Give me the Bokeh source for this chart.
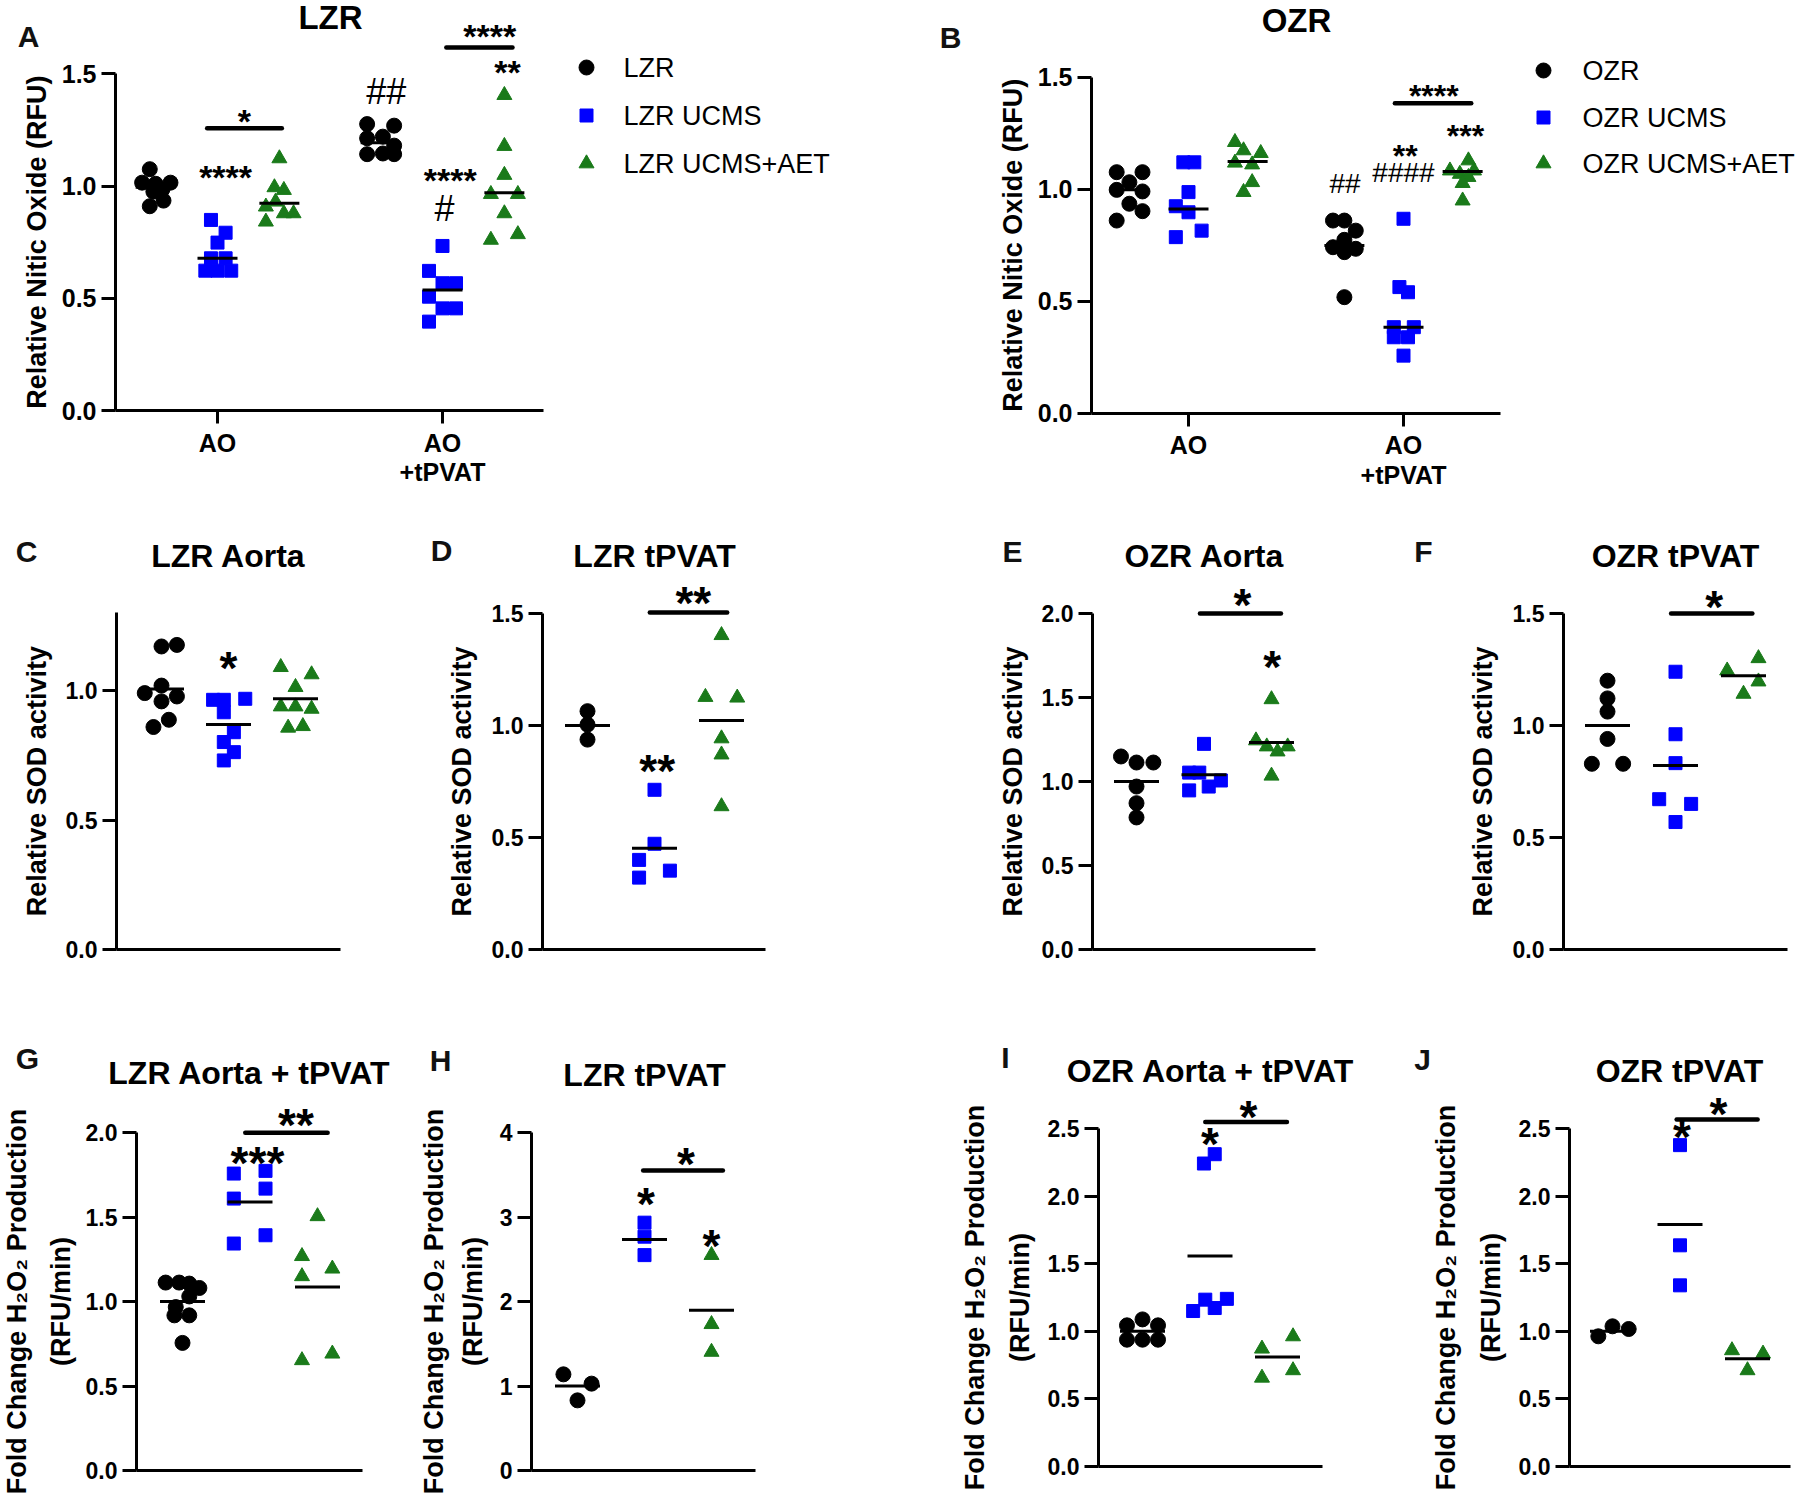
import math
from bokeh.plotting import figure
from bokeh.models import Range1d, FixedTicker, NumeralTickFormatter, LinearAxis
from bokeh.layouts import column, row
from bokeh.embed import file_html
from bokeh.resources import INLINE
from bokeh.core.properties import value

FONT = "Liberation Sans"
SERIES_COLORS = ["#000000", "#0000FF", "#1A7A1A"]
SERIES_MARKERS = ["circle", "square", "triangle"]
MARKER_SIZES = [15, 13, 15]

# ------------------------------------------------------------------ data
LZR_SERIES = ["LZR", "LZR UCMS", "LZR UCMS+AET"]
OZR_SERIES = ["OZR", "OZR UCMS", "OZR UCMS+AET"]
NO_CATEGORIES = ["AO", "AO\n+tPVAT"]
SERIES_OFFSET = [-0.275, 0.0, 0.275]

# Panel A : LZR nitric oxide   (series order: control, UCMS, UCMS+AET)
A_AO_VALUES = [[1.075, 1.015, 1.01, 1.015, 0.985, 0.975, 0.935, 0.91],
               [0.849, 0.792, 0.748, 0.678, 0.678, 0.623, 0.623, 0.623],
               [1.123, 0.994, 0.982, 0.93, 0.908, 0.878, 0.878, 0.841]]
A_AO_JITTER = [[-0.026, -0.06, 0.0, 0.066, 0.03, -0.01, 0.035, -0.026],
               [-0.029, 0.036, 0.0, -0.029, 0.036, -0.054, 0.0, 0.061],
               [0.0, -0.022, 0.02, -0.017, -0.06, 0.063, 0.02, -0.06]]
A_AO_CENTERS = [0.995, 0.678, 0.923]
A_TP_VALUES = [[1.276, 1.269, 1.213, 1.22, 1.18, 1.142, 1.145, 1.142],
               [0.733, 0.622, 0.567, 0.567, 0.507, 0.455, 0.455, 0.396],
               [1.405, 1.178, 1.049, 0.964, 0.964, 0.878, 0.785, 0.76]]
A_TP_JITTER = [[-0.06, 0.06, -0.06, 0.01, 0.06, -0.06, 0.01, 0.06],
               [0.0, -0.06, 0.0, 0.06, -0.06, 0.0, 0.06, -0.06],
               [0.0, 0.0, 0.0, -0.06, 0.06, 0.0, 0.06, -0.06]]
A_TP_CENTERS = [1.193, 0.537, 0.97]
A_MARKS = [("*", 1.119, 1.316), ("****", 1.036, 1.064), ("##", 1.75, 1.42),
           ("****", 2.21, 1.694), ("**", 2.289, 1.531), ("****", 2.034, 1.049),
           ("#", 2.009, 0.90)]
A_BARS = [(0.954, 1.286, 1.257), (2.017, 2.311, 1.617)]

# Panel B : OZR nitric oxide
B_AO_VALUES = [[1.076, 1.076, 1.031, 0.997, 0.99, 0.935, 0.902, 0.86],
               [1.12, 1.12, 0.987, 0.924, 0.897, 0.815, 0.786],
               [1.21, 1.173, 1.161, 1.118, 1.11, 1.031, 0.987]]
B_AO_JITTER = [[-0.059, 0.061, 0.0, -0.059, 0.061, 0.0, 0.061, -0.059],
               [-0.024, 0.027, 0.0, -0.059, 0.0, 0.061, -0.059],
               [-0.059, -0.019, 0.061, -0.059, 0.021, 0.021, -0.019]]
B_AO_CENTERS = [0.997, 0.912, 1.124]
B_TP_VALUES = [[0.86, 0.86, 0.815, 0.774, 0.741, 0.719, 0.734, 0.518],
               [0.868, 0.563, 0.54, 0.384, 0.384, 0.339, 0.339, 0.257],
               [1.128, 1.083, 1.083, 1.068, 1.054, 1.027, 0.949]]
B_TP_JITTER = [[-0.053, 0.0, 0.053, 0.0, -0.053, 0.0, 0.053, 0.0],
               [0.0, -0.019, 0.021, -0.045, 0.048, -0.045, 0.021, 0.0],
               [0.027, -0.059, 0.053, -0.013, 0.027, 0.0, 0.0]]
B_TP_CENTERS = [0.749, 0.384, 1.079]
B_MARKS = [("##", 1.728, 1.024), ("**", 2.008, 1.173), ("####", 2.0, 1.076),
           ("***", 2.288, 1.262), ("****", 2.141, 1.44)]
B_BARS = [(1.96, 2.315, 1.384)]

# Panels C-F : relative SOD activity
C_VALUES = [[1.17, 1.176, 1.019, 0.99, 0.977, 0.958, 0.887, 0.859],
            [0.964, 0.964, 0.968, 0.916, 0.839, 0.801, 0.762, 0.73],
            [1.09, 1.062, 1.013, 0.938, 0.938, 0.929, 0.856, 0.862]]
C_JITTER = [[0.0, 0.23, 0.0, -0.25, 0.23, 0.0, 0.11, -0.12],
            [-0.23, -0.07, 0.25, -0.07, 0.08, -0.07, 0.08, -0.07],
            [-0.22, 0.24, 0.0, -0.22, 0.0, 0.24, -0.11, 0.11]]
C_CENTERS = [1.006, 0.869, 0.968]
C_MARKS = [("*", 2.0, 1.116)]
C_BARS = []

D_VALUES = [[1.064, 1.004, 0.937],
            [0.713, 0.472, 0.40, 0.352, 0.321],
            [1.403, 1.127, 1.124, 0.942, 0.87, 0.639]]
D_JITTER = [[0.0, 0.0, 0.0],
            [0.0, 0.0, -0.23, 0.23, -0.23],
            [0.0, -0.24, 0.235, 0.0, 0.0, 0.0]]
D_CENTERS = [1.0, 0.452, 1.022]
D_MARKS = [("**", 2.04, 0.828), ("**", 2.58, 1.579)]
D_BARS = [(1.93, 3.085, 1.504)]

E_VALUES = [[1.149, 1.113, 1.113, 0.97, 0.871, 0.786],
            [1.224, 1.053, 1.053, 1.006, 0.97, 0.947],
            [1.489, 1.244, 1.208, 1.208, 1.178, 1.034]]
E_JITTER = [[-0.23, 0.0, 0.25, 0.0, 0.0, 0.0],
            [0.0, -0.22, -0.07, 0.25, 0.07, -0.22],
            [0.0, -0.23, -0.07, 0.24, 0.09, 0.0]]
E_CENTERS = [1.0, 1.04, 1.232]
E_MARKS = [("*", 3.01, 1.723), ("*", 2.57, 2.095)]
E_BARS = [(1.94, 3.14, 2.0)]

F_VALUES = [[1.2, 1.121, 1.062, 0.94, 0.829, 0.829],
            [1.24, 0.961, 0.832, 0.671, 0.65, 0.569],
            [1.30, 1.245, 1.196, 1.141]]
F_JITTER = [[0.0, 0.0, 0.0, 0.0, -0.23, 0.23],
            [0.0, 0.0, 0.0, -0.24, 0.23, 0.0],
            [0.22, -0.24, 0.22, 0.0]]
F_CENTERS = [1.0, 0.821, 1.222]
F_MARKS = [("*", 2.57, 1.564)]
F_BARS = [(1.935, 3.13, 1.5)]

# Panels G-J : fold change H2O2 production
G_VALUES = [[1.112, 1.112, 1.106, 1.08, 1.03, 0.967, 0.918, 0.918, 0.755],
            [1.757, 1.773, 1.609, 1.668, 1.392, 1.343],
            [1.504, 1.268, 1.194, 1.149, 0.691, 0.652]]
G_JITTER = [[-0.25, -0.05, 0.1, 0.25, 0.1, -0.1, 0.1, -0.12, 0.0],
            [-0.24, 0.23, -0.24, 0.23, 0.23, -0.24],
            [0.0, -0.23, 0.22, -0.23, 0.22, -0.23]]
G_CENTERS = [1.0, 1.589, 1.086]
G_MARKS = [("***", 2.11, 1.866), ("**", 2.68, 2.089)]
G_BARS = [(1.93, 3.15, 1.998)]

H_VALUES = [[1.138, 1.028, 0.83],
            [2.933, 2.767, 2.549],
            [2.549, 1.731, 1.403]]
H_JITTER = [[-0.21, 0.21, 0.0], [0.0, 0.0, 0.0], [0.0, 0.0, 0.0]]
H_CENTERS = [1.0, 2.735, 1.897]
H_MARKS = [("*", 2.02, 3.24), ("*", 3.0, 2.747), ("*", 2.62, 3.72)]
H_BARS = [(1.98, 3.17, 3.549)]

I_VALUES = [[1.044, 1.088, 1.044, 0.938, 0.938, 0.938],
            [2.31, 2.241, 1.15, 1.234, 1.172, 1.24],
            [0.962, 0.871, 0.711, 0.656]]
I_JITTER = [[-0.23, 0.0, 0.23, -0.23, 0.0, 0.23],
            [0.07, -0.09, -0.25, -0.07, 0.07, 0.25],
            [0.23, -0.23, 0.23, -0.23]]
I_CENTERS = [1.0, 1.557, 0.809]
I_MARKS = [("*", 2.0, 2.443), ("*", 2.57, 2.64)]
I_BARS = [(1.93, 3.14, 2.549)]

J_VALUES = [[0.963, 1.037, 1.017],
            [2.377, 1.636, 1.34],
            [0.859, 0.834, 0.711]]
J_JITTER = [[-0.21, 0.0, 0.24], [0.0, 0.0, 0.0], [-0.23, 0.23, 0.0]]
J_CENTERS = [1.0, 1.79, 0.797]
J_MARKS = [("*", 2.03, 2.488), ("*", 2.57, 2.665)]
J_BARS = [(1.95, 3.15, 2.567)]

NO_LABEL = "Relative Nitic Oxide (RFU)"
SOD_LABEL = "Relative SOD activity"
H2O2_LABEL = ["Fold Change H\u2082O\u2082 Production", "(RFU/min)"]

# ------------------------------------------------------------------ layout (canvas pixels)
ROW1, ROW2, ROW3 = (0, 508), (508, 1000), (1000, 1494)

LAYOUT = {
    "A": dict(fig=(0, 940), row=ROW1, axis=115, c1=217, unit=225, xend=543, zero=410, ref=(1.5, 73.3),
              ytop=1.5, yticks=[0, 0.5, 1.0, 1.5], fmt="0.0", tick_fs=25, hw=20,
              letter=("A", 28, 36), title=("LZR", 330, 17, 33), ylabel=[(NO_LABEL, 36)],
              star_fs=34, hash_fs=36, legend=(586, 623, [67, 115, 163])),
    "B": dict(fig=(940, 1800), row=ROW1, axis=1091, c1=1188, unit=215, xend=1500, zero=412.7, ref=(1.5, 76.7),
              ytop=1.5, yticks=[0, 0.5, 1.0, 1.5], fmt="0.0", tick_fs=25, hw=20,
              letter=("B", 950, 37), title=("OZR", 1296, 20, 33), ylabel=[(NO_LABEL, 1012)],
              star_fs=32, hash_fs=28, legend=(1543, 1582, [70, 117, 163])),
    "C": dict(fig=(0, 420), row=ROW2, axis=116, c1=161, unit=67, xend=340, zero=949, ref=(1.0, 690),
              ytop=1.3, yticks=[0, 0.5, 1.0], fmt="0.0", tick_fs=23, hw=22.5,
              letter=("C", 26, 551), title=("LZR Aorta", 228, 555, 32), ylabel=[(SOD_LABEL, 36)], star_fs=46),
    "D": dict(fig=(420, 880), row=ROW2, axis=542, c1=587, unit=67, xend=765, zero=949, ref=(1.5, 613),
              ytop=1.5, yticks=[0, 0.5, 1.0, 1.5], fmt="0.0", tick_fs=23, hw=22.5,
              letter=("D", 441, 550), title=("LZR tPVAT", 654, 555, 32), ylabel=[(SOD_LABEL, 461)], star_fs=46),
    "E": dict(fig=(880, 1390), row=ROW2, axis=1092, c1=1136, unit=67.5, xend=1315, zero=949, ref=(2.0, 613),
              ytop=2.0, yticks=[0, 0.5, 1.0, 1.5, 2.0], fmt="0.0", tick_fs=23, hw=22.5,
              letter=("E", 1012, 551), title=("OZR Aorta", 1204, 555, 32), ylabel=[(SOD_LABEL, 1012)], star_fs=46),
    "F": dict(fig=(1390, 1800), row=ROW2, axis=1563, c1=1607, unit=68, xend=1787, zero=949, ref=(1.5, 613),
              ytop=1.5, yticks=[0, 0.5, 1.0, 1.5], fmt="0.0", tick_fs=23, hw=22.5,
              letter=("F", 1423, 551), title=("OZR tPVAT", 1675, 555, 32), ylabel=[(SOD_LABEL, 1482)], star_fs=46),
    "G": dict(fig=(0, 410), row=ROW3, axis=136, c1=182, unit=67.5, xend=362, zero=1470, ref=(2.0, 1132),
              ytop=2.0, yticks=[0, 0.5, 1.0, 1.5, 2.0], fmt="0.0", tick_fs=23, hw=22.5,
              letter=("G", 27, 1058), title=("LZR Aorta + tPVAT", 249, 1072, 32),
              ylabel=[(H2O2_LABEL[0], 16), (H2O2_LABEL[1], 60)], star_fs=46),
    "H": dict(fig=(410, 880), row=ROW3, axis=531, c1=577, unit=67, xend=755, zero=1470, ref=(4.0, 1132),
              ytop=4.0, yticks=[0, 1, 2, 3, 4], fmt="0", tick_fs=23, hw=22.5,
              letter=("H", 440, 1060), title=("LZR tPVAT", 644, 1074, 32),
              ylabel=[(H2O2_LABEL[0], 433), (H2O2_LABEL[1], 472)], star_fs=46),
    "I": dict(fig=(880, 1390), row=ROW3, axis=1098, c1=1142, unit=67.5, xend=1322, zero=1466, ref=(2.5, 1128),
              ytop=2.5, yticks=[0, 0.5, 1.0, 1.5, 2.0, 2.5], fmt="0.0", tick_fs=23, hw=22.5,
              letter=("I", 1005, 1057), title=("OZR Aorta + tPVAT", 1210, 1070, 32),
              ylabel=[(H2O2_LABEL[0], 974), (H2O2_LABEL[1], 1019)], star_fs=46),
    "J": dict(fig=(1390, 1800), row=ROW3, axis=1569, c1=1612, unit=67.5, xend=1790, zero=1466, ref=(2.5, 1128),
              ytop=2.5, yticks=[0, 0.5, 1.0, 1.5, 2.0, 2.5], fmt="0.0", tick_fs=23, hw=22.5,
              letter=("J", 1422, 1059), title=("OZR tPVAT", 1679, 1070, 32),
              ylabel=[(H2O2_LABEL[0], 1445), (H2O2_LABEL[1], 1490)], star_fs=46),
}


def style_axis(ax, fs):
    ax.axis_line_width = 3
    ax.axis_line_color = "black"
    ax.major_tick_line_width = 3
    ax.major_tick_line_color = "black"
    ax.major_tick_in = 0
    ax.minor_tick_line_color = None
    ax.major_label_text_font = FONT
    ax.major_label_text_font_style = "bold"
    ax.major_label_text_color = "black"
    ax.major_label_text_font_size = "%dpx" % fs


def add_text(p, x, y, t, fs, bold=True, align="center", angle=0.0, yoff=0.0, color="black"):
    p.text(x=[x], y=[y], text=[t], text_font=value(FONT), text_font_size=value("%dpx" % fs),
           text_font_style="bold" if bold else "normal", text_align=align,
           text_baseline="middle", angle=angle, y_offset=yoff, text_color=color)


def make_panel(L, groups, marks, bars, categories=None, legend_names=None):
    fl, fr = L["fig"]
    rt, rb = L["row"]
    zero = L["zero"]
    rv, rpy = L["ref"]
    ppu = (zero - rpy) / rv

    def X(px):
        return 1 + (px - L["c1"]) / L["unit"]

    def Y(py):
        return (zero - py) / ppu

    p = figure(width=fr - fl, height=rb - rt,
               x_range=Range1d(X(fl), X(fr)), y_range=Range1d(Y(rb), Y(rt)),
               x_axis_type=None, y_axis_type=None,
               min_border=0, min_border_left=0, min_border_right=0, min_border_top=0, min_border_bottom=0,
               output_backend="svg", toolbar_location=None, outline_line_color=None,
               background_fill_color="white", border_fill_color="white")

    ya = LinearAxis(fixed_location=X(L["axis"]), bounds=(0, L["ytop"]),
                    ticker=FixedTicker(ticks=L["yticks"]),
                    formatter=NumeralTickFormatter(format=L["fmt"]))
    style_axis(ya, L["tick_fs"])
    ya.major_tick_out = 14
    ya.major_label_standoff = 5
    p.add_layout(ya, "left")

    xa = LinearAxis(fixed_location=0, bounds=(X(L["axis"]), X(L["xend"])))
    style_axis(xa, L["tick_fs"])
    if categories:
        xa.ticker = FixedTicker(ticks=list(range(1, len(categories) + 1)))
        xa.major_label_overrides = {i + 1: c for i, c in enumerate(categories)}
        xa.major_tick_out = 13
        xa.major_label_standoff = 5
        xa.major_label_text_line_height = 1.05
    else:
        xa.ticker = FixedTicker(ticks=[])
        xa.major_tick_out = 0
        xa.major_label_standoff = 0
    p.add_layout(xa, "below")

    hw = L["hw"] / L["unit"]
    for xc, vals, jit, cen, s in groups:
        p.scatter(x=[xc + d for d in jit], y=vals, marker=SERIES_MARKERS[s],
                  size=MARKER_SIZES[s], color=SERIES_COLORS[s])
    for xc, vals, jit, cen, s in groups:
        p.segment(x0=[xc - hw], y0=[cen], x1=[xc + hw], y1=[cen], line_width=3, line_color="black")

    for x0, x1, yb in bars:
        p.segment(x0=[x0], y0=[yb], x1=[x1], y1=[yb], line_width=4.5, line_color="black",
                  line_cap="round")

    for t, x, y in marks:
        if "#" in t:
            fs = L.get("hash_fs", L["star_fs"])
            add_text(p, x, y, t, fs, bold=False, yoff=0.0)
        else:
            fs = L["star_fs"]
            add_text(p, x, y, t, fs, bold=True, yoff=0.16 * fs)

    lt, lx, ly = L["letter"]
    add_text(p, X(lx), Y(ly), lt, 30, color="#111111")
    tt, tx, ty, tfs = L["title"]
    add_text(p, X(tx), Y(ty), tt, tfs)
    yc = (zero + (zero - L["ytop"] * ppu)) / 2
    for txt, px in L["ylabel"]:
        add_text(p, X(px), Y(yc), txt, 27, angle=math.pi / 2)

    if legend_names:
        mx, tx0, rows_py = L["legend"]
        for s, (name, py) in enumerate(zip(legend_names, rows_py)):
            p.scatter(x=[X(mx)], y=[Y(py)], marker=SERIES_MARKERS[s], size=MARKER_SIZES[s],
                      color=SERIES_COLORS[s])
            add_text(p, X(tx0), Y(py), name, 27, bold=False, align="left")
    return p


def two_cat_groups(cat_data):
    groups = []
    for ci, (vals, jit, cens) in enumerate(cat_data):
        for s in range(3):
            groups.append((ci + 1 + SERIES_OFFSET[s], vals[s], jit[s], cens[s], s))
    return groups


def three_col_groups(vals, jit, cens):
    return [(s + 1, vals[s], jit[s], cens[s], s) for s in range(3)]


pA = make_panel(LAYOUT["A"], two_cat_groups([(A_AO_VALUES, A_AO_JITTER, A_AO_CENTERS),
                                             (A_TP_VALUES, A_TP_JITTER, A_TP_CENTERS)]),
                A_MARKS, A_BARS, categories=NO_CATEGORIES, legend_names=LZR_SERIES)
pB = make_panel(LAYOUT["B"], two_cat_groups([(B_AO_VALUES, B_AO_JITTER, B_AO_CENTERS),
                                             (B_TP_VALUES, B_TP_JITTER, B_TP_CENTERS)]),
                B_MARKS, B_BARS, categories=NO_CATEGORIES, legend_names=OZR_SERIES)
pC = make_panel(LAYOUT["C"], three_col_groups(C_VALUES, C_JITTER, C_CENTERS), C_MARKS, C_BARS)
pD = make_panel(LAYOUT["D"], three_col_groups(D_VALUES, D_JITTER, D_CENTERS), D_MARKS, D_BARS)
pE = make_panel(LAYOUT["E"], three_col_groups(E_VALUES, E_JITTER, E_CENTERS), E_MARKS, E_BARS)
pF = make_panel(LAYOUT["F"], three_col_groups(F_VALUES, F_JITTER, F_CENTERS), F_MARKS, F_BARS)
pG = make_panel(LAYOUT["G"], three_col_groups(G_VALUES, G_JITTER, G_CENTERS), G_MARKS, G_BARS)
pH = make_panel(LAYOUT["H"], three_col_groups(H_VALUES, H_JITTER, H_CENTERS), H_MARKS, H_BARS)
pI = make_panel(LAYOUT["I"], three_col_groups(I_VALUES, I_JITTER, I_CENTERS), I_MARKS, I_BARS)
pJ = make_panel(LAYOUT["J"], three_col_groups(J_VALUES, J_JITTER, J_CENTERS), J_MARKS, J_BARS)

layout = column(row(pA, pB), row(pC, pD, pE, pF), row(pG, pH, pI, pJ))
open("out.html", "w").write(file_html(layout, INLINE))
